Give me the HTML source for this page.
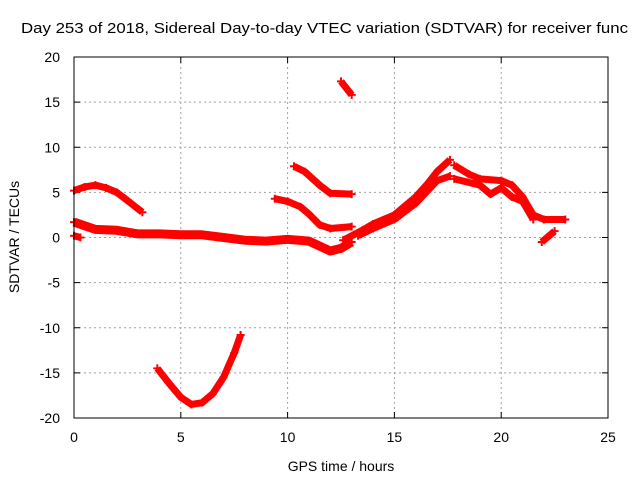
<!DOCTYPE html>
<html><head><meta charset="utf-8"><style>
body{margin:0;background:#fff;}
svg{display:block;font-family:"Liberation Sans",sans-serif;font-size:14px;}
</style></head><body>
<svg id="chart" width="640" height="480" xmlns="http://www.w3.org/2000/svg">
<text x="21" y="33" font-size="15" textLength="607" lengthAdjust="spacingAndGlyphs">Day 253 of 2018, Sidereal Day-to-day VTEC variation (SDTVAR) for receiver func</text>
<g id="grid"></g>
<g id="ticks"></g>
<g id="series"></g>
<rect x="74" y="57" width="534" height="361" fill="none" stroke="#000" stroke-width="1"/>
<text x="341" y="471" text-anchor="middle">GPS time / hours</text>
<text transform="translate(19,237) rotate(-90)" text-anchor="middle">SDTVAR / TECUs</text>
</svg>
<script>
const xTicks=[0,5,10,15,20,25];
const yTicks=[-20,-15,-10,-5,0,5,10,15,20];
const trackA=[[0,5.2],[0.5,5.6],[1,5.8],[1.5,5.5],[2,5.0],[2.5,4.1],[3.2,2.8]];
const trackB=[[0,1.7],[0.5,1.3],[1,0.9],[2,0.8],[3,0.4],[4,0.4],[5,0.3],[6,0.3],[7,0.0],[8,-0.3],[9,-0.4],[10,-0.2],[11,-0.4],[12,-1.5],[12.5,-1.2],[13,-0.5]];
const trackB2=[[0,0.2],[0.3,0]];
const trackC=[[10.3,7.9],[10.8,7.3],[11.5,5.8],[12,4.9],[13,4.8]];
const trackD=[[9.4,4.3],[10,4.0],[10.6,3.4],[11,2.6],[11.5,1.4],[12,1.0],[13,1.2]];
const trackE=[[3.9,-14.5],[4.5,-16.3],[5,-17.7],[5.5,-18.5],[6,-18.3],[6.5,-17.3],[7,-15.5],[7.5,-12.8],[7.8,-10.8]];
const trackF=[[12.5,17.3],[13,15.8]];
const trackG=[[12.6,-0.3],[13.5,0.8],[14,1.5],[15,2.5],[16,4.5],[16.5,5.8],[17,7.3],[17.6,8.6]];
const trackG2=[[13.3,0.2],[14,1.0],[15,2.0],[16,3.8],[17,6.3],[17.6,6.8]];
const trackH=[[17.8,8],[18.5,7],[19,6.5],[20,6.3],[20.5,5.8],[21,4.5],[21.5,2.5],[22,2.0],[23,2.0]];
const trackH2=[[17.8,6.5],[19,5.8],[19.5,4.8],[20,5.5],[20.5,4.5],[21,4.0],[21.5,2.0]];
const trackI=[[21.9,-0.5],[22.5,0.7]];
const tracks=[trackA,trackB,trackB2,trackC,trackD,trackE,trackF,trackG,trackG2,trackH,trackH2,trackI];
const X0=74,X1=608,Y0=418,Y1=57;
const sx=v=>X0+(v-0)/25*(X1-X0);
const sy=v=>Y0-(v+20)/40*(Y0-Y1);
const NS="http://www.w3.org/2000/svg";
const grid=document.getElementById('grid'),ticks=document.getElementById('ticks'),ser=document.getElementById('series');
function mk(tag,attrs,parent){const e=document.createElementNS(NS,tag);for(const k in attrs)e.setAttribute(k,attrs[k]);parent.appendChild(e);return e;}
xTicks.forEach(t=>{const x=sx(t);
 if(t>0&&t<25){const l=mk('line',{x1:x,x2:x,y1:Y1,y2:Y0,stroke:'#a0a0a0','stroke-dasharray':'2,3'},grid);
 
 }
 mk('line',{x1:x,x2:x,y1:Y0,y2:Y0-6,stroke:'#000'},ticks);mk('line',{x1:x,x2:x,y1:Y1,y2:Y1+6,stroke:'#000'},ticks);
 const tx=mk('text',{x:x,y:Y0+24,'text-anchor':'middle'},ticks);tx.textContent=t;
 
 });
yTicks.forEach(t=>{const y=sy(t);
 if(t>-20&&t<20){const l=mk('line',{x1:X0,x2:X1,y1:y,y2:y,stroke:'#a0a0a0','stroke-dasharray':'2,3'},grid);
 
 }
 mk('line',{x1:X0,x2:X0+6,y1:y,y2:y,stroke:'#000'},ticks);mk('line',{x1:X1,x2:X1-6,y1:y,y2:y,stroke:'#000'},ticks);
 const tx=mk('text',{x:X0-14,y:y+5,'text-anchor':'end'},ticks);tx.textContent=t;
 
 });
tracks.forEach((tr,i)=>{
 const w=(i===1)?9:7;
 const p=mk('polyline',{points:tr.map(d=>sx(d[0])+','+sy(d[1])).join(' '),fill:'none',stroke:'#ff0000','stroke-width':w,'stroke-linejoin':'round','stroke-linecap':'butt'},ser);
 
 
 tr.forEach(d=>{const x=sx(d[0]),y=sy(d[1]);
  const m=mk('path',{d:`M${x-4},${y}h8M${x},${y-4}v8`,stroke:'#ff0000','stroke-width':2},ser);
  
  });
});
</script>
</body></html>
